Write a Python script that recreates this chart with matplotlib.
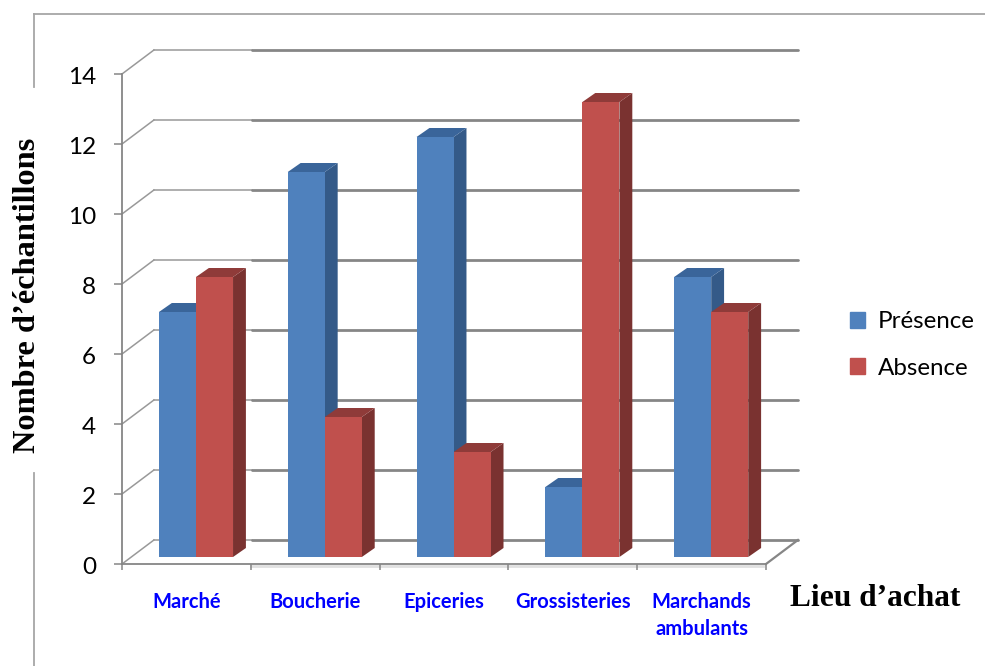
import matplotlib
matplotlib.use('Agg')
import matplotlib.pyplot as plt
from matplotlib.lines import Line2D
from matplotlib.patches import Patch, Polygon
from matplotlib.transforms import ScaledTranslation

# Data
lieux = ['Marché', 'Boucherie', 'Epiceries', 'Grossisteries', 'Marchands\nambulants']
presence = [7, 11, 12, 2, 8]
absence = [8, 4, 3, 13, 7]
y_ticks = [0, 2, 4, 6, 8, 10, 12, 14]

BLUE = '#4F81BD'
BLUE_SIDE = '#345A88'
BLUE_TOP = '#3A659A'
RED = '#C0504D'
RED_SIDE = '#7A3230'
RED_TOP = '#8F3B39'
GREY = '#868686'

# Oblique depth of the chart box and of the bars, in data units
WALL_DX, WALL_DY = 0.248, 0.686
BAR_DX, BAR_DY = 0.10, 0.257
BAR_W = 0.2875
BAR_BASE = 0.2
GROUP_START = 0.287


def draw_bar(ax, x, value, face, side, top):
    y0, y1 = BAR_BASE, BAR_BASE + value
    ax.bar(x, value, BAR_W, bottom=y0, align='edge', color=face, zorder=5)
    ax.add_patch(Polygon([(x + BAR_W, y0), (x + BAR_W + BAR_DX, y0 + BAR_DY),
                          (x + BAR_W + BAR_DX, y1 + BAR_DY), (x + BAR_W, y1)],
                         color=side, lw=0, zorder=4))
    ax.add_patch(Polygon([(x, y1), (x + BAR_DX, y1 + BAR_DY),
                          (x + BAR_W + BAR_DX, y1 + BAR_DY), (x + BAR_W, y1)],
                         color=top, lw=0, zorder=4))


fig = plt.figure(figsize=(9.85, 6.66), dpi=100)
ax = fig.add_axes([122 / 985, 102 / 666, 644 / 985, 490 / 666])
ax.set_xlim(0, 5)
ax.set_ylim(0, 14)

# Walls and floor
for v in y_ticks:
    ax.plot([0, WALL_DX], [v, v + WALL_DY], color='#999999', lw=1.1,
            clip_on=False, zorder=1)
    ax.plot([WALL_DX, 1.008], [v + WALL_DY, v + WALL_DY], color='#999999', lw=1.1,
            clip_on=False, zorder=1)
    ax.plot([1.008, 5 + WALL_DX], [v + WALL_DY, v + WALL_DY], color=GREY, lw=2,
            clip_on=False, zorder=1, solid_capstyle='round')
ax.plot([5, 5 + WALL_DX], [0, WALL_DY], color=GREY, lw=1.6, clip_on=False, zorder=1)
ax.plot([1.0, 4.98], [-0.06, -0.06], color='#E0E0E0', lw=2, clip_on=False, zorder=1)

# Bars
for i in range(len(lieux)):
    x = i + GROUP_START
    draw_bar(ax, x, presence[i], BLUE, BLUE_SIDE, BLUE_TOP)
    draw_bar(ax, x + BAR_W, absence[i], RED, RED_SIDE, RED_TOP)

# Axes
for name in ['top', 'right']:
    ax.spines[name].set_visible(False)
for name in ['left', 'bottom']:
    ax.spines[name].set_color(GREY)
    ax.spines[name].set_linewidth(1.3)
ax.patch.set_alpha(0)

ax.set_yticks(y_ticks)
ax.set_yticklabels([str(v) for v in y_ticks], fontname='Lato', fontsize=17.5, color='black')
ax.tick_params(axis='y', length=5.8, width=1.1, color=GREY, pad=13)
# nudge the y labels down a little
nudge = ScaledTranslation(0, -2 / 100, fig.dpi_scale_trans)
for label in ax.get_yticklabels():
    label.set_transform(label.get_transform() + nudge)

ax.set_xticks(range(6))
ax.set_xticklabels([])
ax.tick_params(axis='x', which='major', length=4, width=1.1, color=GREY)
ax.set_xticks([i + 0.5 for i in range(5)], minor=True)
ax.set_xticklabels(lieux, minor=True, fontname='Lato', fontweight='bold', fontsize=14.5,
                   color='#0000FF', linespacing=1.45)
ax.tick_params(axis='x', which='minor', length=0, pad=20)

# Axis titles
fig.text(28 / 985, 1 - 295 / 666, 'Nombre d’échantillons', rotation=90, ha='center', va='center',
         fontname='Liberation Serif', fontweight='bold', fontsize=23.3)
fig.text(875 / 985, 1 - 598 / 666, 'Lieu d’achat', ha='center', va='center',
         fontname='Liberation Serif', fontweight='bold', fontsize=22.6)

# Outer frame, broken where the y title sits
frame = [([34, 985], [14, 14]), ([34, 34], [14, 87]), ([34, 34], [473, 666])]
for xs, ys in frame:
    fig.add_artist(Line2D([x / 985 for x in xs], [1 - y / 666 for y in ys],
                          color='#A6A6A6', lw=1.3))

# Legend
handles = [Patch(color=BLUE, label='Présence'), Patch(color=RED, label='Absence')]
fig.legend(handles=handles, loc='center left', bbox_to_anchor=(850 / 985, 1 - 345 / 666),
           frameon=False, prop={'family': 'Lato', 'size': 17.4}, handlelength=0.62,
           handleheight=0.62, handletextpad=0.53, labelspacing=1.04, borderpad=0, borderaxespad=0)

fig.savefig('out.png', dpi=100)
